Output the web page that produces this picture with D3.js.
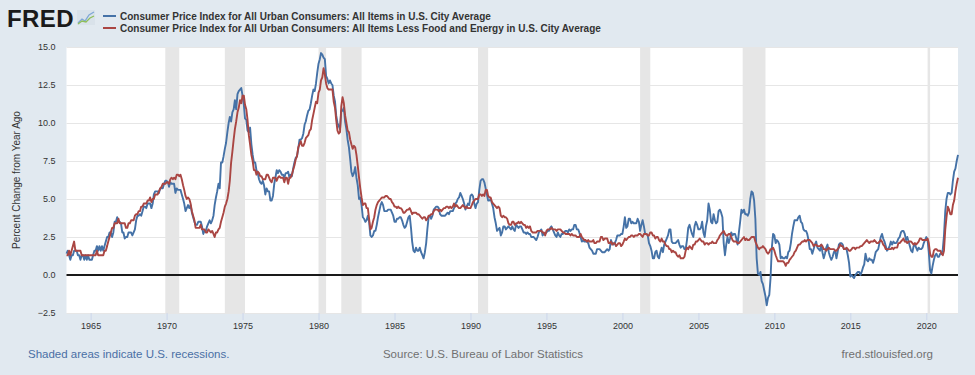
<!DOCTYPE html>
<html>
<head>
<meta charset="utf-8">
<script src="https://cdn.jsdelivr.net/npm/d3@7"></script>
<style>
  body { margin: 0; background: #e1e9f0; }
  svg { display: block; font-family: "Liberation Sans", Arial, sans-serif; }
</style>
</head>
<body>
<svg id="chart" width="975" height="375"></svg>
<script>
// monthly series, first value = June 1963
const startMonth = new Date(1963, 5, 1);

const cpiAll = [
  1.4, 1.6, 1.3, 1.0, 1.3, 1.3, 1.6, // 1963
  1.6, 1.6, 1.3, 1.3, 1.0, 1.3, 1.3, 1.0, 1.3, 1.0, 1.3, 1.0, // 1964
  1.0, 1.0, 1.3, 1.6, 1.6, 1.9, 1.6, 1.9, 1.6, 1.9, 1.6, 1.9,
  2.2, 2.5, 2.5, 2.8, 2.8, 2.5, 2.8, 3.5, 3.5, 3.8, 3.5, 3.5,
  3.4, 2.8, 2.8, 2.4, 2.5, 2.5, 2.8, 2.8, 2.8, 2.6, 2.8, 3.0,
  3.6, 3.9, 3.9, 4.0, 3.9, 4.2, 4.5, 4.5, 4.4, 4.7, 4.7, 4.7,
  4.4, 4.7, 5.3, 5.5, 5.5, 5.5, 5.4, 5.7, 5.7, 5.7, 6.0, 6.2, // 1969
  6.2, 6.1, 5.8, 6.1, 6.0, 6.0, 6.0, 5.4, 5.7, 5.6, 5.6, 5.6,
  5.3, 5.0, 4.7, 4.2, 4.4, 4.6, 4.4, 4.6, 4.1, 3.8, 3.5, 3.3,
  3.3, 3.5, 3.5, 3.5, 3.2, 2.7, 2.9, 2.9, 3.2, 3.4, 3.6, 3.4,
  3.6, 3.9, 4.6, 5.1, 5.5, 6.0, 5.7, 7.4, 7.4, 7.8, 8.3, 8.7,
  9.4, 10.0, 10.4, 10.1, 10.7, 10.9, 11.5, 10.9, 11.9, 12.1, 12.2, 12.3, // 1974
  11.8, 11.2, 10.3, 10.2, 9.5, 9.4, 9.7, 8.6, 7.9, 7.4, 7.4, 6.9,
  6.7, 6.3, 6.1, 6.0, 6.2, 5.9, 5.3, 5.7, 5.5, 5.5, 4.9, 4.9,
  5.2, 6.0, 6.4, 6.9, 6.7, 6.9, 6.8, 6.6, 6.6, 6.4, 6.7, 6.7,
  6.8, 6.4, 6.6, 6.5, 7.0, 7.4, 7.7, 7.8, 8.3, 8.9, 8.9, 9.0,
  9.3, 9.9, 10.1, 10.5, 10.8, 10.9, 11.3, 11.8, 12.2, 12.1, 12.6, 13.3, // 1979
  13.9, 14.2, 14.6, 14.5, 14.3, 14.2, 13.1, 12.9, 12.6, 12.8, 12.6, 12.5,
  11.8, 11.4, 10.5, 10.0, 9.8, 9.6, 10.8, 10.8, 11.0, 10.1, 9.6, 8.9,
  8.4, 7.6, 6.8, 6.5, 6.7, 7.1, 6.4, 5.9, 5.0, 5.1, 4.6, 3.8,
  3.7, 3.5, 3.6, 3.9, 3.5, 2.6, 2.5, 2.6, 2.9, 2.9, 3.3, 3.8,
  4.2, 4.6, 4.8, 4.6, 4.2, 4.2, 4.2, 4.3, 4.3, 4.3, 4.1, 3.9, // 1984
  3.5, 3.5, 3.7, 3.7, 3.8, 3.8, 3.6, 3.3, 3.1, 3.2, 3.5, 3.8,
  3.9, 3.1, 2.2, 1.6, 1.5, 1.8, 1.6, 1.6, 1.8, 1.5, 1.3, 1.1,
  1.5, 2.1, 3.0, 3.8, 3.9, 3.7, 3.9, 4.3, 4.4, 4.5, 4.5, 4.4,
  4.0, 3.9, 3.9, 3.9, 3.9, 4.0, 4.1, 4.0, 4.2, 4.2, 4.2, 4.4,
  4.7, 4.8, 5.0, 5.1, 5.4, 5.2, 5.0, 4.7, 4.3, 4.5, 4.7, 4.6, // 1989
  5.2, 5.3, 5.2, 4.7, 4.4, 4.7, 4.8, 5.6, 6.2, 6.3, 6.3, 6.1,
  5.7, 5.3, 4.9, 4.9, 5.0, 4.7, 4.4, 3.8, 3.4, 2.9, 3.0, 3.1,
  2.6, 2.8, 3.2, 3.2, 3.0, 3.1, 3.2, 3.1, 3.0, 3.2, 3.0, 2.9,
  3.3, 3.2, 3.1, 3.2, 3.2, 3.0, 2.8, 2.8, 2.7, 2.8, 2.7, 2.7,
  2.5, 2.5, 2.5, 2.4, 2.3, 2.5, 2.8, 2.9, 3.0, 2.6, 2.7, 2.7, // 1994
  2.8, 2.9, 2.9, 3.1, 3.2, 3.0, 2.8, 2.6, 2.5, 2.8, 2.6, 2.5,
  2.7, 2.7, 2.8, 2.9, 2.9, 2.8, 3.0, 2.9, 3.0, 3.0, 3.3, 3.3,
  3.0, 3.0, 2.8, 2.5, 2.2, 2.3, 2.2, 2.2, 2.2, 2.1, 1.8, 1.7,
  1.6, 1.4, 1.4, 1.4, 1.7, 1.7, 1.7, 1.6, 1.5, 1.5, 1.5, 1.6,
  1.7, 1.6, 1.7, 2.3, 2.1, 2.0, 2.1, 2.3, 2.6, 2.6, 2.6, 2.7, // 1999
  2.7, 3.2, 3.8, 3.1, 3.2, 3.7, 3.7, 3.4, 3.5, 3.4, 3.4, 3.4,
  3.7, 3.5, 2.9, 3.3, 3.6, 3.2, 2.7, 2.7, 2.6, 2.1, 1.9, 1.6,
  1.1, 1.1, 1.5, 1.6, 1.2, 1.1, 1.5, 1.8, 1.5, 2.0, 2.2, 2.4,
  2.6, 3.0, 3.0, 2.2, 2.1, 2.1, 2.1, 2.2, 2.3, 2.0, 1.8, 1.9,
  1.9, 1.7, 1.7, 2.3, 3.1, 3.3, 3.0, 2.7, 2.5, 3.2, 3.5, 3.3, // 2004
  3.0, 3.0, 3.1, 3.5, 2.8, 2.5, 3.2, 3.6, 4.7, 4.3, 3.5, 3.4,
  4.0, 3.6, 3.4, 3.5, 4.2, 4.3, 4.1, 3.8, 2.1, 1.3, 2.0, 2.5,
  2.1, 2.4, 2.8, 2.6, 2.7, 2.7, 2.4, 2.0, 2.8, 3.5, 4.3, 4.1,
  4.3, 4.0, 4.0, 3.9, 4.1, 5.0, 5.5, 5.4, 4.9, 3.7, 1.1, 0.1,
  0.0, 0.2, -0.4, -0.6, -1.0, -1.4, -2.0, -1.5, -1.3, -0.2, 1.8, 2.7, // 2009
  2.6, 2.1, 2.3, 2.2, 2.0, 1.1, 1.2, 1.1, 1.1, 1.2, 1.1, 1.5,
  1.6, 2.1, 2.7, 3.2, 3.6, 3.6, 3.6, 3.8, 3.9, 3.5, 3.4, 3.0,
  2.9, 2.9, 2.7, 2.3, 1.7, 1.7, 1.4, 1.7, 2.0, 2.2, 1.8, 1.7,
  1.6, 2.0, 1.5, 1.1, 1.4, 1.8, 2.0, 1.5, 1.2, 1.0, 1.2, 1.5,
  1.6, 1.1, 1.5, 2.0, 2.1, 2.1, 2.0, 1.7, 1.7, 1.7, 1.3, 0.8, // 2014
  -0.1, 0.0, -0.1, -0.2, 0.0, 0.1, 0.2, 0.2, 0.0, 0.2, 0.5, 0.7,
  1.4, 1.0, 0.9, 1.1, 1.0, 1.0, 0.8, 1.1, 1.5, 1.6, 1.7, 2.1,
  2.5, 2.7, 2.4, 2.2, 1.9, 1.6, 1.7, 1.9, 2.2, 2.0, 2.2, 2.1,
  2.1, 2.2, 2.4, 2.5, 2.8, 2.9, 2.9, 2.7, 2.3, 2.5, 2.2, 1.9,
  1.6, 1.5, 1.9, 2.0, 1.8, 1.6, 1.8, 1.7, 1.7, 1.8, 2.1, 2.3, // 2019
  2.5, 2.3, 1.5, 0.3, 0.1, 0.6, 1.0, 1.3, 1.4, 1.2, 1.2, 1.4,
  1.4, 1.7, 2.6, 4.2, 5.0, 5.4, 5.4, 5.3, 5.4, 6.2, 6.8, 7.0,
  7.5, 7.9 // 2022
];

const cpiCore = [
  1.3, 1.3, 1.6, 1.3, 1.6, 1.9, 2.2, // 1963
  1.6, 1.6, 1.6, 1.6, 1.6, 1.3, 1.3, 1.3, 1.3, 1.3, 1.3, 1.3, // 1964
  1.3, 1.3, 1.3, 1.3, 1.3, 1.6, 1.3, 1.3, 1.3, 1.3, 1.3, 1.6,
  1.6, 1.9, 2.2, 2.5, 2.8, 3.1, 3.1, 3.4, 3.4, 3.4, 3.7, 3.4,
  3.4, 3.4, 3.4, 3.4, 3.1, 3.1, 3.4, 3.4, 3.6, 3.6, 3.6, 3.9,
  4.0, 4.0, 4.2, 4.2, 4.5, 4.5, 4.7, 4.7, 4.7, 4.9, 4.9, 5.1,
  4.8, 5.0, 5.0, 5.3, 5.3, 5.3, 5.5, 5.7, 5.8, 6.0, 6.0, 6.0, // 1969
  6.1, 6.1, 6.0, 6.3, 6.4, 6.3, 6.4, 6.3, 6.6, 6.6, 6.5, 6.6,
  6.3, 5.9, 5.6, 5.2, 5.0, 5.1, 5.0, 4.7, 4.2, 3.9, 3.6, 3.1,
  3.1, 3.1, 3.1, 3.3, 3.0, 3.0, 3.0, 2.8, 2.8, 3.0, 2.9, 2.8,
  2.9, 2.7, 2.5, 2.8, 2.8, 3.0, 3.1, 3.5, 3.8, 4.1, 4.5, 4.7,
  5.0, 5.5, 6.2, 7.4, 8.1, 8.9, 9.6, 10.1, 10.7, 11.0, 11.5, 11.3, // 1974
  11.8, 11.8, 11.2, 10.9, 10.2, 9.2, 8.6, 7.9, 7.5, 6.9, 6.9, 6.6,
  6.8, 6.7, 6.5, 6.5, 6.3, 6.3, 6.3, 6.6, 6.6, 6.4, 6.2, 6.1,
  6.4, 6.4, 6.4, 6.2, 6.4, 6.5, 6.4, 6.4, 6.4, 6.1, 6.4, 6.4,
  6.0, 6.4, 6.4, 6.6, 6.9, 7.2, 7.6, 7.8, 8.4, 8.6, 8.8, 8.5,
  8.5, 8.7, 9.0, 9.1, 9.2, 9.5, 9.6, 10.2, 10.6, 11.0, 11.4, 11.3, // 1979
  12.0, 12.2, 12.8, 13.0, 13.6, 13.2, 12.6, 12.3, 12.2, 12.2, 12.2, 12.2,
  11.4, 11.0, 10.2, 9.5, 9.3, 9.4, 11.1, 11.7, 11.3, 10.5, 10.0, 9.5,
  9.4, 8.9, 8.6, 8.3, 8.5, 8.4, 7.9, 7.2, 6.4, 5.7, 5.1, 4.6,
  4.7, 4.7, 4.4, 4.4, 3.7, 3.0, 3.1, 3.5, 3.8, 4.3, 4.6, 4.8,
  4.9, 5.0, 5.1, 5.1, 5.1, 5.2, 5.2, 5.1, 5.0, 5.0, 4.8, 4.7, // 1984
  4.5, 4.5, 4.4, 4.5, 4.4, 4.4, 4.3, 4.1, 4.1, 4.2, 4.3, 4.3,
  4.4, 4.2, 4.0, 4.1, 4.1, 4.1, 4.0, 4.0, 3.9, 3.8, 3.7, 3.8,
  3.8, 3.6, 3.7, 3.9, 3.9, 4.0, 4.0, 4.2, 4.3, 4.3, 4.3, 4.2,
  4.3, 4.2, 4.3, 4.4, 4.4, 4.5, 4.5, 4.4, 4.5, 4.4, 4.5, 4.7,
  4.5, 4.6, 4.5, 4.4, 4.4, 4.5, 4.6, 4.5, 4.4, 4.5, 4.4, 4.4, // 1989
  4.4, 4.6, 4.8, 4.9, 5.0, 5.0, 5.0, 5.3, 5.3, 5.2, 5.3, 5.2,
  5.6, 5.6, 5.2, 5.1, 5.1, 4.8, 4.7, 4.6, 4.5, 4.4, 4.5, 4.4,
  3.9, 3.8, 3.9, 3.8, 3.8, 3.7, 3.4, 3.3, 3.3, 3.5, 3.5, 3.3,
  3.4, 3.4, 3.5, 3.4, 3.5, 3.4, 3.3, 3.3, 3.1, 3.2, 3.1, 3.2,
  2.9, 2.8, 2.8, 2.8, 2.8, 2.9, 2.9, 2.9, 2.9, 2.8, 2.8, 2.6, // 1994
  2.9, 3.0, 3.0, 3.0, 3.1, 3.0, 3.0, 3.0, 2.9, 3.0, 3.0, 3.0,
  2.9, 2.8, 2.8, 2.7, 2.7, 2.7, 2.7, 2.6, 2.7, 2.6, 2.6, 2.6,
  2.5, 2.5, 2.5, 2.7, 2.5, 2.4, 2.3, 2.3, 2.2, 2.3, 2.2, 2.2,
  2.2, 2.3, 2.1, 2.1, 2.2, 2.2, 2.2, 2.5, 2.5, 2.3, 2.4, 2.4,
  2.4, 2.1, 2.1, 2.2, 2.0, 2.1, 2.1, 1.9, 2.0, 2.1, 2.1, 1.9, // 1999
  2.0, 2.2, 2.4, 2.3, 2.4, 2.5, 2.5, 2.6, 2.6, 2.5, 2.6, 2.6,
  2.6, 2.7, 2.7, 2.6, 2.5, 2.7, 2.7, 2.7, 2.6, 2.6, 2.8, 2.8,
  2.6, 2.6, 2.4, 2.5, 2.5, 2.3, 2.2, 2.4, 2.2, 2.2, 2.0, 1.9,
  1.9, 1.7, 1.7, 1.5, 1.6, 1.5, 1.5, 1.3, 1.2, 1.3, 1.1, 1.1,
  1.1, 1.2, 1.6, 1.8, 1.7, 1.9, 1.8, 1.7, 2.0, 2.0, 2.2, 2.2, // 2004
  2.3, 2.4, 2.3, 2.2, 2.2, 2.0, 2.1, 2.1, 2.0, 2.1, 2.1, 2.2,
  2.1, 2.1, 2.1, 2.3, 2.4, 2.6, 2.7, 2.8, 2.9, 2.7, 2.6, 2.6,
  2.7, 2.7, 2.5, 2.3, 2.2, 2.2, 2.2, 2.1, 2.1, 2.2, 2.3, 2.4,
  2.5, 2.3, 2.4, 2.3, 2.3, 2.4, 2.5, 2.5, 2.5, 2.2, 2.0, 1.8,
  1.7, 1.8, 1.8, 1.9, 1.8, 1.7, 1.5, 1.4, 1.5, 1.7, 1.7, 1.8, // 2009
  1.6, 1.3, 1.1, 0.9, 0.9, 0.9, 0.9, 0.9, 0.8, 0.6, 0.8, 0.8,
  1.0, 1.1, 1.2, 1.3, 1.5, 1.6, 1.8, 2.0, 2.0, 2.1, 2.2, 2.2,
  2.3, 2.2, 2.3, 2.3, 2.3, 2.2, 2.1, 1.9, 2.0, 2.0, 1.9, 1.9,
  1.9, 2.0, 1.9, 1.7, 1.7, 1.6, 1.7, 1.8, 1.7, 1.7, 1.7, 1.7,
  1.6, 1.6, 1.7, 1.8, 2.0, 1.9, 1.9, 1.7, 1.7, 1.8, 1.7, 1.6, // 2014
  1.6, 1.7, 1.8, 1.8, 1.7, 1.8, 1.8, 1.8, 1.9, 1.9, 2.0, 2.1,
  2.2, 2.3, 2.2, 2.1, 2.2, 2.2, 2.2, 2.3, 2.2, 2.1, 2.1, 2.2,
  2.3, 2.2, 2.0, 1.9, 1.7, 1.7, 1.7, 1.7, 1.7, 1.8, 1.7, 1.8,
  1.8, 1.8, 2.1, 2.1, 2.2, 2.3, 2.4, 2.2, 2.2, 2.1, 2.2, 2.2,
  2.2, 2.1, 2.0, 2.1, 2.0, 2.1, 2.2, 2.4, 2.4, 2.3, 2.3, 2.3, // 2019
  2.3, 2.4, 2.1, 1.4, 1.2, 1.2, 1.6, 1.7, 1.7, 1.6, 1.6, 1.6,
  1.4, 1.3, 1.6, 3.0, 3.8, 4.5, 4.3, 4.0, 4.0, 4.6, 4.9, 5.5,
  6.0, 6.4 // 2022
];

const recessions = [
  ["1969-12", "1970-11"], ["1973-11", "1975-03"], ["1980-01", "1980-07"],
  ["1981-07", "1982-11"], ["1990-07", "1991-03"], ["2001-03", "2001-11"],
  ["2007-12", "2009-06"], ["2020-02", "2020-04"]
];

const yTicks = [-2.5, 0, 2.5, 5, 7.5, 10, 12.5, 15];
const xTickYears = d3.range(1965, 2021, 5);
const seriesNames = [
  "Consumer Price Index for All Urban Consumers: All Items in U.S. City Average",
  "Consumer Price Index for All Urban Consumers: All Items Less Food and Energy in U.S. City Average"
];
const colors = ["#4572a7", "#aa4643"];

const width = 975, height = 375;
const margin = { top: 47, right: 17, bottom: 62, left: 66.5 };

const parseMonth = d3.timeParse("%Y-%m");
const dates = cpiAll.map((d, i) => d3.timeMonth.offset(startMonth, i));

const xScale = d3
  .scaleTime()
  .domain([dates[0], dates[dates.length - 1]])
  .range([margin.left, width - margin.right]);

const yScale = d3
  .scaleLinear()
  .domain([-2.5, 15])
  .range([height - margin.bottom, margin.top]);

const svg = d3.select("#chart");

// plot background
svg
  .append("rect")
  .attr("x", margin.left)
  .attr("y", margin.top)
  .attr("width", width - margin.left - margin.right)
  .attr("height", height - margin.top - margin.bottom)
  .attr("fill", "#fff");

// recession bands
svg
  .append("g")
  .selectAll("rect")
  .data(recessions)
  .join("rect")
  .attr("x", (d) => xScale(parseMonth(d[0])))
  .attr("width", (d) => xScale(parseMonth(d[1])) - xScale(parseMonth(d[0])))
  .attr("y", margin.top)
  .attr("height", height - margin.top - margin.bottom)
  .attr("fill", "#e6e6e6");

// y grid + labels
const yAxis = svg
  .append("g")
  .attr("transform", `translate(${margin.left},0)`)
  .call(
    d3
      .axisLeft(yScale)
      .tickValues(yTicks)
      .tickFormat(d3.format(".1f"))
      .tickSize(-(width - margin.left - margin.right))
      .tickPadding(11)
  );
yAxis.select(".domain").remove();
yAxis.selectAll("line").attr("stroke", "#e6e6e6");
yAxis
  .selectAll("text")
  .attr("fill", "#333")
  .style("font-size", "9px")
  .style("font-family", "Liberation Sans, Arial, sans-serif");

// x axis
const xAxis = svg
  .append("g")
  .attr("transform", `translate(0,${height - margin.bottom})`)
  .call(
    d3
      .axisBottom(xScale)
      .tickValues(xTickYears.map((y) => new Date(y, 0, 1)))
      .tickFormat(d3.timeFormat("%Y"))
      .tickSize(7)
      .tickPadding(3)
  );
xAxis.select(".domain").remove();
xAxis.selectAll("line").attr("stroke", "#ccd6eb");
xAxis
  .selectAll("text")
  .attr("fill", "#333")
  .style("font-size", "9px")
  .style("font-family", "Liberation Sans, Arial, sans-serif");

// zero line
svg
  .append("line")
  .attr("x1", margin.left)
  .attr("x2", width - margin.right)
  .attr("y1", yScale(0))
  .attr("y2", yScale(0))
  .attr("stroke", "#1a1a1a")
  .attr("stroke-width", 2);

// series lines
const line = d3
  .line()
  .x((d, i) => xScale(dates[i]))
  .y((d) => yScale(d));

[cpiAll, cpiCore].forEach((values, k) => {
  svg
    .append("path")
    .datum(values)
    .attr("d", line)
    .attr("fill", "none")
    .attr("stroke", colors[k])
    .attr("stroke-width", 1.9)
    .attr("stroke-linejoin", "round");
});

// y label
svg
  .append("text")
  .attr("transform", "translate(20,180) rotate(-90)")
  .attr("text-anchor", "middle")
  .attr("fill", "#333")
  .style("font-size", "10px")
  .text("Percent Change from Year Ago");

// FRED logo
svg
  .append("text")
  .attr("x", 7)
  .attr("y", 26.5)
  .attr("fill", "#1a1a1a")
  .style("font-size", "24px")
  .style("font-weight", "bold")
  .style("letter-spacing", "0.4px")
  .text("FRED");

const icon = svg.append("g").attr("transform", "translate(77,10)");
icon.append("rect").attr("width", 18).attr("height", 15).attr("fill", "#d9e2ea");
icon
  .append("polyline")
  .attr("points", "1,13 5,9 8,11 12,5 17,2")
  .attr("fill", "none")
  .attr("stroke", "#7fa8d6")
  .attr("stroke-width", 1.3);
icon
  .append("polyline")
  .attr("points", "1,14 5,11 9,12 13,8 17,6")
  .attr("fill", "none")
  .attr("stroke", "#8fbf5a")
  .attr("stroke-width", 1.3);

// legend
const legend = svg
  .append("g")
  .selectAll("g")
  .data(seriesNames)
  .join("g")
  .attr("transform", (d, i) => `translate(103,${16 + i * 12})`);
legend
  .append("line")
  .attr("x1", 0)
  .attr("x2", 13)
  .attr("stroke", (d, i) => colors[i])
  .attr("stroke-width", 2);
legend
  .append("text")
  .attr("x", 17)
  .attr("y", 3.5)
  .attr("fill", "#333")
  .style("font-size", "10px")
  .style("font-weight", "bold")
  .text((d) => d);

// footer
svg
  .append("text")
  .attr("x", 28)
  .attr("y", 358)
  .attr("fill", "#4a6fa5")
  .style("font-size", "11.5px")
  .text("Shaded areas indicate U.S. recessions.");
svg
  .append("text")
  .attr("x", 483)
  .attr("y", 358)
  .attr("text-anchor", "middle")
  .attr("fill", "#707070")
  .style("font-size", "11.5px")
  .text("Source: U.S. Bureau of Labor Statistics");
svg
  .append("text")
  .attr("x", 933)
  .attr("y", 358)
  .attr("text-anchor", "end")
  .attr("fill", "#707070")
  .style("font-size", "11.5px")
  .text("fred.stlouisfed.org");
</script>
</body>
</html>
